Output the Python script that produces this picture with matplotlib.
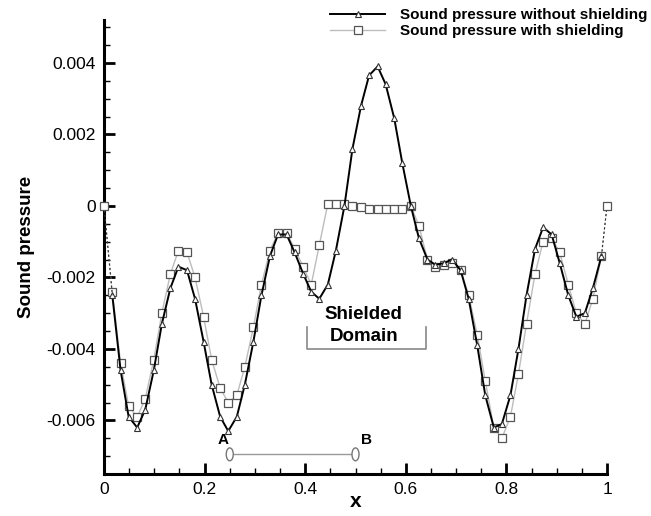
import numpy as np
import matplotlib
matplotlib.use('Agg')
import matplotlib.pyplot as plt
from matplotlib.patches import Ellipse
from matplotlib.ticker import MultipleLocator, FuncFormatter

plt.rcParams['font.family'] = ['Liberation Sans', 'DejaVu Sans']
plt.rcParams['axes.unicode_minus'] = False

# sample positions along x (grid points, end points at 0 and 1)
x_grid = [0.0, 0.0165, 0.033, 0.049, 0.066, 0.082, 0.099, 0.115, 0.132, 0.148,
          0.165, 0.181, 0.198, 0.214, 0.231, 0.247, 0.264, 0.280, 0.297, 0.313,
          0.330, 0.346, 0.363, 0.379, 0.396, 0.412, 0.428, 0.445, 0.461, 0.478,
          0.494, 0.511, 0.527, 0.544, 0.560, 0.577, 0.593, 0.610, 0.626, 0.643,
          0.659, 0.676, 0.692, 0.709, 0.725, 0.742, 0.758, 0.775, 0.791, 0.808,
          0.824, 0.840, 0.857, 0.873, 0.890, 0.906, 0.923, 0.939, 0.956, 0.972,
          0.989, 1.0]

# sound pressure without shielding (triangles)
p_free = [0.0, -0.0025, -0.0046, -0.0059, -0.0062, -0.0057, -0.0046, -0.0033, -0.0023, -0.0017,
          -0.0018, -0.0026, -0.0038, -0.0050, -0.0059, -0.0063, -0.0059, -0.0050, -0.0038, -0.0025,
          -0.0014, -0.0008, -0.0008, -0.0013, -0.0019, -0.0024, -0.0026, -0.0022, -0.00125, 0.0,
          0.0016, 0.0028, 0.00365, 0.0039, 0.0034, 0.00245, 0.0012, 0.0, -0.0009, -0.0015,
          -0.00165, -0.0016, -0.0015, -0.0018, -0.0026, -0.0039, -0.0053, -0.0062, -0.0061, -0.0053,
          -0.0040, -0.0025, -0.0012, -0.0006, -0.0008, -0.0016, -0.0025, -0.0031, -0.0030, -0.0023,
          -0.0014, 0.0]

# sound pressure with shielding (squares)
p_shield = [0.0, -0.0024, -0.0044, -0.0056, -0.0059, -0.0054, -0.0043, -0.0030, -0.0019, -0.00125,
            -0.0013, -0.0020, -0.0031, -0.0043, -0.0051, -0.0055, -0.0053, -0.0045, -0.0034, -0.0022,
            -0.00125, -0.00075, -0.00075, -0.0012, -0.0017, -0.0022, -0.0011, 0.00006, 0.00006, 0.00005,
            0.0, -0.00003, -0.00008, -0.00008, -0.00008, -0.00008, -0.00008, 0.0, -0.00055, -0.0015,
            -0.0017, -0.00165, -0.0016, -0.0018, -0.0025, -0.0036, -0.0049, -0.0062, -0.0065, -0.0059,
            -0.0047, -0.0033, -0.0019, -0.0010, -0.0009, -0.0013, -0.0022, -0.0030, -0.0033, -0.0026,
            -0.0014, 0.0]

x_ticks = [0, 0.2, 0.4, 0.6, 0.8, 1.0]
y_ticks = [-0.006, -0.004, -0.002, 0, 0.002, 0.004]

# annotation positions
segment_ab = [0.25, 0.5]
segment_y = -0.00695
domain_x = [0.403, 0.640]
domain_y = [-0.0040, -0.0034]

fig = plt.figure(figsize=(6.51, 5.16), dpi=100)
ax = fig.add_axes([104 / 651, 1 - 474 / 516, 503 / 651, 454 / 516])

x = np.array(x_grid)
pf = np.array(p_free)
ps = np.array(p_shield)

# with shielding: light grey line, square markers
ax.plot(x[1:-1], ps[1:-1], '-', color='#bdbdbd', lw=1.0, marker='s', ms=5.5,
        mfc='white', mec='#555555', mew=0.9, zorder=2)
ax.plot(x[:2], ps[:2], '--', color='#888888', lw=0.8, dashes=(2, 2), zorder=2)
ax.plot(x[-2:], ps[-2:], '--', color='#888888', lw=0.8, dashes=(2, 2), zorder=2)
ax.plot([x[0], x[-1]], [ps[0], ps[-1]], 's', ms=5.5, mfc='white', mec='#555555',
        mew=0.9, clip_on=False, zorder=4)

# without shielding: black line, triangle markers
ax.plot(x[1:-1], pf[1:-1], '-', color='black', lw=1.4, marker='^', ms=4.5,
        mfc='white', mec='#333333', mew=0.8, zorder=3)
ax.plot(x[:2], pf[:2], '--', color='#333333', lw=0.8, dashes=(2, 2), zorder=3)
ax.plot(x[-2:], pf[-2:], '--', color='#333333', lw=0.8, dashes=(2, 2), zorder=3)

# A-B segment
ax.plot(segment_ab, [segment_y, segment_y], color='#999999', lw=1.0, zorder=2)
for xe in segment_ab:
    ax.add_patch(Ellipse((xe, segment_y), 0.014, 0.00036, facecolor='white',
                         edgecolor='#777777', lw=1.0, zorder=3))
ax.text(segment_ab[0] - 0.014, segment_y + 0.0004, 'A', fontsize=11, fontweight='bold',
        ha='center', va='center')
ax.text(segment_ab[1] + 0.022, segment_y + 0.0004, 'B', fontsize=11, fontweight='bold',
        ha='center', va='center')

# shielded domain bracket
ax.plot([domain_x[0], domain_x[0], domain_x[1], domain_x[1]],
        [domain_y[1], domain_y[0], domain_y[0], domain_y[1]], color='#888888', lw=1.2)
ax.text(sum(domain_x) / 2 - 0.005, -0.00304, 'Shielded', fontsize=13.5, fontweight='bold',
        ha='center', va='center')
ax.text(sum(domain_x) / 2 - 0.005, -0.00364, 'Domain', fontsize=13.5, fontweight='bold',
        ha='center', va='center')

ax.set_xlim(0, 1)
ax.set_ylim(-0.0075, 0.0052)
ax.set_xticks(x_ticks)
ax.set_yticks(y_ticks)
ax.xaxis.set_minor_locator(MultipleLocator(0.05))
ax.yaxis.set_minor_locator(MultipleLocator(0.0005))
fmt = FuncFormatter(lambda v, pos: '{:g}'.format(round(v, 6)))
ax.xaxis.set_major_formatter(fmt)
ax.yaxis.set_major_formatter(fmt)
ax.tick_params(which='major', direction='in', length=8, width=2, labelsize=12.5, pad=6)
ax.tick_params(which='minor', direction='in', length=4, width=1)
for s in ['top', 'right']:
    ax.spines[s].set_visible(False)
for s in ['left', 'bottom']:
    ax.spines[s].set_linewidth(2.2)

ax.set_xlabel('x', fontsize=15, fontweight='bold', labelpad=-4)
ax.set_ylabel('Sound pressure', fontsize=13.5, fontweight='bold', labelpad=8)

h1, = ax.plot([], [], '-', color='black', lw=1.4, marker='^', ms=4.5, mfc='white',
              mec='#333333', mew=0.8)
h2, = ax.plot([], [], '-', color='#bdbdbd', lw=1.0, marker='s', ms=5.5, mfc='white',
              mec='#555555', mew=0.9)
fig.legend([h1, h2], ['Sound pressure without shielding', 'Sound pressure with shielding'],
           loc='upper left', bbox_to_anchor=(330 / 651, 1 - 8 / 516), frameon=False,
           borderpad=0, borderaxespad=0, handlelength=3.6, handletextpad=1.0,
           labelspacing=0.15, prop={'size': 11, 'weight': 'bold'})

fig.savefig('out.png', dpi=100)
